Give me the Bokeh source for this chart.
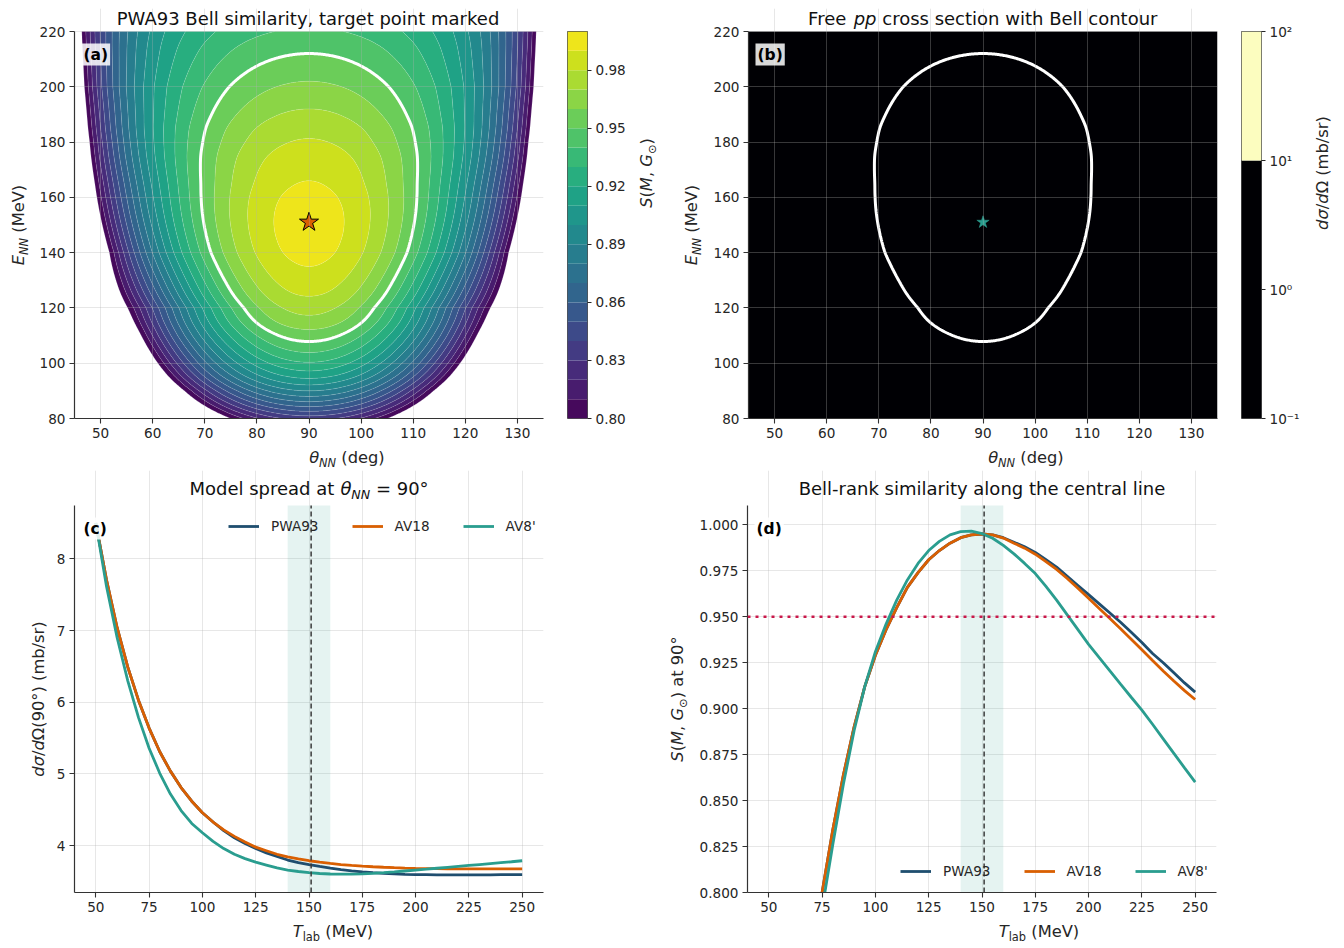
import math
import numpy as np
from bokeh.plotting import figure
from bokeh.layouts import row, column
from bokeh.models import (Range1d, FixedTicker, PrintfTickFormatter, Label, Legend,
                          LegendItem, BoxAnnotation, Span, Spacer)
from bokeh.palettes import Viridis256
from bokeh.embed import file_html
from bokeh.resources import INLINE

# ------------------------------------------------------------------ data
# (c) d sigma / d Omega at theta_NN = 90 deg (mb/sr) vs T_lab (MeV)
T_c = [50, 55, 60, 65, 70, 75, 80, 85, 90, 95,
       100, 105, 110, 115, 120, 125, 130, 135, 140, 145,
       150, 155, 160, 165, 170, 175, 180, 185, 190, 195,
       200, 205, 210, 215, 220, 225, 230, 235, 240, 245, 250]
xs_pwa93 = [8.50, 7.71, 7.04, 6.49, 6.03, 5.64, 5.31, 5.04, 4.81, 4.62,
            4.46, 4.33, 4.21, 4.11, 4.03, 3.96, 3.90, 3.85, 3.80, 3.765,
            3.735, 3.71, 3.687, 3.667, 3.65, 3.636, 3.625, 3.615, 3.607, 3.601,
            3.597, 3.595, 3.593, 3.592, 3.592, 3.592, 3.593, 3.594, 3.595, 3.596, 3.597]
xs_av18 = [8.50, 7.71, 7.04, 6.49, 6.03, 5.64, 5.31, 5.04, 4.81, 4.62,
           4.46, 4.33, 4.22, 4.13, 4.05, 3.98, 3.93, 3.88, 3.845, 3.815,
           3.79, 3.77, 3.752, 3.737, 3.725, 3.715, 3.706, 3.699, 3.693, 3.688,
           3.684, 3.681, 3.679, 3.678, 3.677, 3.677, 3.677, 3.677, 3.677, 3.677, 3.677]
xs_av8p = [8.50, 7.62, 6.90, 6.30, 5.79, 5.36, 5.01, 4.72, 4.49, 4.31,
           4.18, 4.06, 3.96, 3.88, 3.82, 3.77, 3.73, 3.69, 3.66, 3.64,
           3.625, 3.612, 3.605, 3.602, 3.603, 3.607, 3.614, 3.623, 3.634, 3.647,
           3.66, 3.672, 3.685, 3.698, 3.711, 3.724, 3.737, 3.75, 3.763, 3.776, 3.79]

# (d) Bell-rank similarity S(M, G_odot) at 90 deg vs T_lab (MeV)
T_d = [75, 80, 85, 90, 95, 100, 105, 110, 115, 120,
       125, 130, 135, 140, 145, 150, 155, 160, 165, 170,
       175, 180, 185, 190, 195, 200, 205, 210, 215, 220,
       225, 230, 235, 240, 245, 250]
S_pwa93 = [0.800, 0.834, 0.864, 0.890, 0.912, 0.929, 0.943, 0.955, 0.966, 0.974,
           0.981, 0.986, 0.990, 0.993, 0.9945, 0.995, 0.9945, 0.993, 0.9905, 0.988,
           0.985, 0.981, 0.977, 0.972, 0.967, 0.962, 0.957, 0.952, 0.947, 0.9415,
           0.936, 0.930, 0.925, 0.9195, 0.914, 0.909]
S_av18 = [0.800, 0.834, 0.864, 0.890, 0.912, 0.929, 0.943, 0.955, 0.966, 0.974,
          0.981, 0.986, 0.990, 0.993, 0.9945, 0.995, 0.9945, 0.9928, 0.990, 0.9873,
          0.984, 0.980, 0.9757, 0.9708, 0.9655, 0.960, 0.9545, 0.949, 0.9435, 0.9378,
          0.932, 0.9262, 0.9205, 0.915, 0.9098, 0.905]
S_av8p = [0.791, 0.826, 0.859, 0.888, 0.912, 0.931, 0.946, 0.959, 0.970, 0.979,
          0.986, 0.991, 0.9945, 0.9963, 0.9966, 0.9952, 0.9927, 0.9888, 0.9842, 0.979,
          0.9735, 0.9665, 0.959, 0.951, 0.943, 0.935, 0.9277, 0.9205, 0.9133, 0.9062,
          0.8992, 0.8915, 0.8836, 0.8757, 0.8678, 0.860]

# (a) similarity map, read per energy row (PWA93): half-width in deg (from 90 deg)
# of the S = 0.80 edge and of one inner contour (level, half-width); None = not readable
E_rows = [80, 90, 100, 110, 120, 140, 160, 180, 200, 220]
w80_rows = [15.0, 23.9, 29.0, 32.2, 34.8, 38.3, 40.7, 42.1, 43.1, 43.6]
mid_levels = [None, None, None, None, 0.95, 0.95, 0.95, 0.95, 0.95, 0.92]
w_mid_rows = [None, None, None, None, 12.5, 18.8, 20.7, 20.4, 15.3, 23.7]

S_levels = [0.80, 0.81, 0.82, 0.83, 0.84, 0.85, 0.86, 0.87, 0.88, 0.89, 0.90,
            0.91, 0.92, 0.93, 0.94, 0.95, 0.96, 0.97, 0.98, 0.99, 1.00]
S_cbar_ticks = [0.80, 0.83, 0.86, 0.89, 0.92, 0.95, 0.98]
bell_level = 0.95
target_theta = [90]
target_E = [151]
target_T = 151
band_T = [140, 160]

# (b) colour bands of the cross-section map, in log10(mb/sr)
xs_bounds_log = [-1, 1, 2]
xs_colors = ["#000004", "#fcfdbf"]
xs_cbar_ticks = [-1, 0, 1, 2]
xs_cbar_labels = ["10⁻¹", "10⁰", "10¹", "10²"]

theta_lim = [45, 135]
E_lim = [80, 220]
T_lim = [40, 260]
xs_lim = [3.347, 8.745]
S_lim = [0.800, 1.0105]
theta_ticks = [50, 60, 70, 80, 90, 100, 110, 120, 130]
E_ticks = [80, 100, 120, 140, 160, 180, 200, 220]
T_ticks = [50, 75, 100, 125, 150, 175, 200, 225, 250]
xs_ticks = [4, 5, 6, 7, 8]
S_ticks = [0.800, 0.825, 0.850, 0.875, 0.900, 0.925, 0.950, 0.975, 1.000]

# ------------------------------------------------------------------ style
FONT = "DejaVu Sans"
INK = "#262626"
C_PWA, C_AV18, C_AV8 = "#1f4e6f", "#d95f02", "#2a9d8f"
C_REF = "#c9184a"

CW = {' ': 0.318, '(': 0.390, ')': 0.390, 'M': 0.863, 'e': 0.615, 'V': 0.684, 'E': 0.632,
      'N': 0.748, 'd': 0.635, 'g': 0.635, 'θ': 0.602, 'T': 0.611, 'l': 0.278, 'a': 0.613,
      'b': 0.635, 'σ': 0.634, '/': 0.337, 'Ω': 0.764, '9': 0.636, '0': 0.636, '°': 0.500,
      'm': 0.974, 's': 0.521, 'r': 0.411, 'S': 0.635, 'G': 0.775, ',': 0.318, '⊙': 0.838,
      't': 0.392, '=': 0.838, 'p': 0.635, 'F': 0.575, 'c': 0.550, 'o': 0.612, 'i': 0.278,
      'n': 0.634, 'w': 0.818, 'h': 0.634, 'B': 0.686, 'u': 0.634, 'P': 0.603, 'W': 0.989,
      'A': 0.684, '3': 0.636, 'k': 0.579, 'y': 0.592, 'R': 0.695, 'C': 0.698, 'L': 0.557,
      '-': 0.361, 'v': 0.592, 'x': 0.592, 'f': 0.352}


def rich(fig, parts, cx, cy, size, angle=0.0, color=INK):
    """Mixed-style text (italic / subscript); (cx, cy) = centre of the capitals, frame px."""
    segs, total = [], 0.0
    for text, kind in parts:
        sub = kind in ("si", "sn")
        sz = size * 0.7 if sub else size
        w = sum(CW.get(ch, 0.6) for ch in text) * sz
        segs.append((text, kind, sz, w, sub))
        total += w
    a = -total / 2.0
    ca, sa = math.cos(angle), math.sin(angle)
    for text, kind, sz, w, sub in segs:
        shown = text.lstrip(" ")
        a0 = a + (len(text) - len(shown)) * CW[" "] * sz
        b = (-0.31 * size) if sub else (0.01 * size)
        fig.add_layout(Label(x=cx + a0 * ca - b * sa, y=cy + a0 * sa + b * ca,
                             x_units="screen", y_units="screen", text=shown, angle=angle,
                             text_align="left", text_baseline="alphabetic",
                             text_font=FONT, text_font_size=f"{sz:.1f}px",
                             text_font_style="italic" if kind in ("i", "si") else "normal",
                             text_color=color))
        a += w


def strip(w, h):
    s = figure(width=w, height=h, min_border=0, x_range=Range1d(0, 1), y_range=Range1d(0, 1),
               x_axis_location=None, y_axis_location=None, toolbar_location=None,
               output_backend="svg", outline_line_color=None, title=None,
               background_fill_color="white", border_fill_color="white")
    s.grid.visible = False
    return s


FW = 469          # frame width of every panel
DH = 387          # height of the data region of every panel


def panel(xlim, ylim, extra_top, bl, br, bb):
    """Figure whose frame carries extra room above the data region for the title."""
    y_end = ylim[1] + extra_top * (ylim[1] - ylim[0]) / DH
    p = figure(x_range=Range1d(*xlim), y_range=Range1d(ylim[0], y_end),
               frame_width=FW, frame_height=DH + extra_top,
               min_border_left=bl, min_border_right=br, min_border_top=0, min_border_bottom=bb,
               toolbar_location=None, output_backend="svg", outline_line_color=None,
               title=None, background_fill_color="white", border_fill_color="white")
    return p


def style(p, xticks, yticks, ylim, yfmt=None):
    p.xaxis.ticker = FixedTicker(ticks=xticks)
    p.yaxis.ticker = FixedTicker(ticks=yticks)
    p.yaxis.bounds = (ylim[0], ylim[1])
    if yfmt:
        p.yaxis.formatter = PrintfTickFormatter(format=yfmt)
    for ax in (p.xaxis[0], p.yaxis[0]):
        ax.axis_line_color = "#333333"
        ax.axis_line_width = 1.2
        ax.major_tick_line_color = "#333333"
        ax.major_tick_line_width = 1.1
        ax.major_tick_out = 5
        ax.major_tick_in = 0
        ax.minor_tick_line_color = None
        ax.major_label_text_font = FONT
        ax.major_label_text_font_size = "13.6px"
        ax.major_label_text_color = INK
        ax.major_label_standoff = 4
    p.grid.grid_line_color = "#b0b0b0"
    p.grid.grid_line_alpha = 0.35
    p.grid.grid_line_width = 0.9
    p.xgrid.bounds = (ylim[0], ylim[1])


def letter(p, txt):
    p.add_layout(Label(x=7, y=DH - 12, x_units="screen", y_units="screen", text=txt,
                       text_font=FONT, text_font_size="15.5px", text_font_style="bold",
                       text_color="black", text_align="left", text_baseline="top",
                       background_fill_color="white", background_fill_alpha=0.85, padding=2))


def colorbar_fig(yr, br):
    c = figure(x_range=Range1d(0, 1), y_range=yr, frame_width=20, frame_height=DH,
               min_border_left=12, min_border_right=br, min_border_top=23, min_border_bottom=52,
               x_axis_location=None, y_axis_location="right", toolbar_location=None,
               output_backend="svg", outline_line_color=INK, outline_line_width=0.8,
               title=None, background_fill_color="white", border_fill_color="white")
    c.grid.visible = False
    ax = c.yaxis[0]
    ax.axis_line_color = None
    ax.major_tick_line_color = INK
    ax.major_tick_out = 4
    ax.major_tick_in = 0
    ax.minor_tick_line_color = None
    ax.major_label_text_font = FONT
    ax.major_label_text_font_size = "13.6px"
    ax.major_label_text_color = INK
    ax.major_label_standoff = 4
    return c


def smooth_interp(xq, xs, ys):
    """Cubic Hermite interpolation through the 5 MeV centre-line readings."""
    xs = np.asarray(xs, float)
    ys = np.asarray(ys, float)
    m = np.gradient(ys, xs)
    i = np.clip(np.searchsorted(xs, xq) - 1, 0, len(xs) - 2)
    h = xs[i + 1] - xs[i]
    t = (xq - xs[i]) / h
    return ((2 * t ** 3 - 3 * t ** 2 + 1) * ys[i] + (t ** 3 - 2 * t ** 2 + t) * h * m[i]
            + (-2 * t ** 3 + 3 * t ** 2) * ys[i + 1] + (t ** 3 - t ** 2) * h * m[i + 1])


# ------------------------------------------------------------------ similarity field
theta_grid = np.linspace(theta_lim[0], theta_lim[1], 451)
E_grid = np.linspace(E_lim[0], E_lim[1], 351)
A_r, B_r = [], []
for E, w80, lvl, wm in zip(E_rows, w80_rows, mid_levels, w_mid_rows):
    s0 = float(np.interp(E, T_d, S_pwa93))
    v2 = w80 ** 2
    if wm is None:
        A_r.append((s0 - S_levels[0]) / v2)
        B_r.append(0.0)
    else:
        v1 = wm ** 2
        a, b = np.linalg.solve(np.array([[v1, v1 ** 3], [v2, v2 ** 3]]),
                               np.array([s0 - lvl, s0 - S_levels[0]]))
        A_r.append(a)
        B_r.append(b)
S0 = smooth_interp(E_grid, T_d, S_pwa93)[:, None]
A_g = np.interp(E_grid, E_rows, A_r)[:, None]
B_g = np.interp(E_grid, E_rows, B_r)[:, None]
V = (theta_grid[None, :] - target_theta[0]) ** 2
S_field = S0 - A_g * V - B_g * V ** 3
XS_field = np.log10(np.interp(E_grid, T_c, xs_pwa93))[:, None] + 0.0 * V

band_colors = [Viridis256[min(255, int(((lo + hi) / 2 - S_levels[0]) /
                                         (S_levels[-1] - S_levels[0]) * 256))]
               for lo, hi in zip(S_levels[:-1], S_levels[1:])]

TOP_T = 23     # title room above the data region, top row
BOT_T = 35     # title room above the data region, bottom row
TS = 18.0      # title font px
LS = 16.3      # axis-label font px

# ------------------------------------------------------------------ (a)
pa = panel(theta_lim, E_lim, TOP_T, 38, 12, 26)
style(pa, theta_ticks, E_ticks, E_lim)
pa.contour(x=theta_grid, y=E_grid, z=S_field, levels=S_levels, fill_color=band_colors,
           line_color="white", line_alpha=0.28, line_width=0.6)
pa.contour(x=theta_grid, y=E_grid, z=S_field, levels=[bell_level],
           line_color="white", line_width=3)
pa.scatter(x=target_theta, y=target_E, marker="star", size=20,
           fill_color="#d95f02", line_color="black", line_width=1)
pa.grid.level = "glyph"
letter(pa, "(a)")
rich(pa, [("PWA93 Bell similarity, target point marked", "n")], FW / 2, DH + 12.7, TS,
     color="#111111")
yla = strip(28, 462)
rich(yla, [("E", "i"), ("NN", "si"), (" (MeV)", "n")], 10, 245.5, LS, angle=math.pi / 2)
xla = strip(519, 26)
rich(xla, [("θ", "i"), ("NN", "si"), (" (deg)", "n")], 38 + FW / 2, 12.5, LS)

ca = colorbar_fig(Range1d(S_levels[0], S_levels[-1]), 40)
ca.quad(left=0, right=1, bottom=S_levels[:-1], top=S_levels[1:],
        fill_color=band_colors, line_color=None)
ca.yaxis.ticker = FixedTicker(ticks=S_cbar_ticks)
ca.yaxis.formatter = PrintfTickFormatter(format="%.2f")
cal = strip(33, 462)
rich(cal, [("S", "i"), ("(", "n"), ("M", "i"), (", ", "n"), ("G", "i"), ("⊙", "sn"), (")", "n")],
     18, 245.5, LS, angle=math.pi / 2)

# ------------------------------------------------------------------ (b)
pb = panel(theta_lim, E_lim, TOP_T, 43, 12, 26)
style(pb, theta_ticks, E_ticks, E_lim)
pb.contour(x=theta_grid, y=E_grid, z=XS_field, levels=xs_bounds_log, fill_color=xs_colors,
           line_color=None)
pb.contour(x=theta_grid, y=E_grid, z=S_field, levels=[bell_level],
           line_color="white", line_width=3)
pb.scatter(x=target_theta, y=target_E, marker="star", size=13,
           fill_color=C_AV8, line_color=C_AV8, line_width=0.5)
pb.grid.level = "glyph"
letter(pb, "(b)")
rich(pb, [("Free ", "n"), ("pp", "i"), (" cross section with Bell contour", "n")],
     FW / 2, DH + 12.7, TS, color="#111111")
ylb = strip(44, 462)
rich(ylb, [("E", "i"), ("NN", "si"), (" (MeV)", "n")], 30, 245.5, LS, angle=math.pi / 2)
xlb = strip(524, 26)
rich(xlb, [("θ", "i"), ("NN", "si"), (" (deg)", "n")], 43 + FW / 2, 12.5, LS)

cb = colorbar_fig(Range1d(xs_bounds_log[0], xs_bounds_log[-1]), 38)
cb.quad(left=0, right=1, bottom=xs_bounds_log[:-1], top=xs_bounds_log[1:],
        fill_color=xs_colors, line_color=None)
cb.yaxis.ticker = FixedTicker(ticks=xs_cbar_ticks)
cb.yaxis.major_label_overrides = dict(zip(xs_cbar_ticks, xs_cbar_labels))
cbl = strip(37, 462)
rich(cbl, [("dσ", "i"), ("/", "n"), ("d", "i"), ("Ω", "n"), (" (mb/sr)", "n")],
     20, 245.5, LS, angle=math.pi / 2)


def legend(p, rs, loc):
    p.add_layout(Legend(items=[LegendItem(label="PWA93", renderers=[rs[0]]),
                               LegendItem(label="AV18", renderers=[rs[1]]),
                               LegendItem(label="AV8'", renderers=[rs[2]])],
                        location=loc, orientation="horizontal", background_fill_alpha=0,
                        border_line_alpha=0, label_text_font=FONT,
                        label_text_font_size="13.6px", label_text_color=INK,
                        glyph_width=31, glyph_height=20, label_height=20,
                        label_standoff=12, spacing=33, padding=0, margin=0))


# ------------------------------------------------------------------ (c)
pc = panel(T_lim, xs_lim, BOT_T, 24, 117, 26)
style(pc, T_ticks, xs_ticks, xs_lim)
pc.add_layout(BoxAnnotation(left=band_T[0], right=band_T[1], bottom=xs_lim[0], top=xs_lim[1],
                            fill_color=C_AV8, fill_alpha=0.12, line_color=None,
                            level="underlay"))
rc = [pc.line(T_c, xs_pwa93, line_color=C_PWA, line_width=2.8),
      pc.line(T_c, xs_av18, line_color=C_AV18, line_width=2.8),
      pc.line(T_c, xs_av8p, line_color=C_AV8, line_width=2.8)]
pc.segment(x0=[target_T], y0=[xs_lim[0]], x1=[target_T], y1=[xs_lim[1]],
           line_color="#3a3a3a", line_width=1.5, line_dash="5 3")
legend(pc, rc, (154, 356))
letter(pc, "(c)")
rich(pc, [("Model spread at ", "n"), ("θ", "i"), ("NN", "si"), (" = 90°", "n")],
     FW / 2, DH + 17, TS, color="#111111")
ylc = strip(42, 476)
rich(ylc, [("dσ", "i"), ("/", "n"), ("d", "i"), ("Ω(90°)", "n"), (" (mb/sr)", "n")],
     30, 247.5, LS, angle=math.pi / 2)
xlc = strip(610, 28)
rich(xlc, [("T", "i"), ("lab", "sn"), (" (MeV)", "n")], 24 + FW / 2, 15, LS)

# ------------------------------------------------------------------ (d)
pdd = panel(T_lim, S_lim, BOT_T, 57, 119, 26)
style(pdd, T_ticks, S_ticks, S_lim, "%.3f")
pdd.add_layout(BoxAnnotation(left=band_T[0], right=band_T[1], bottom=S_lim[0], top=S_lim[1],
                             fill_color=C_AV8, fill_alpha=0.12, line_color=None,
                             level="underlay"))
rd = [pdd.line(T_d, S_pwa93, line_color=C_PWA, line_width=2.8),
      pdd.line(T_d, S_av18, line_color=C_AV18, line_width=2.8),
      pdd.line(T_d, S_av8p, line_color=C_AV8, line_width=2.8)]
pdd.add_layout(Span(location=bell_level, dimension="width", line_color=C_REF,
                    line_width=2.4, line_dash="3 5"))
pdd.segment(x0=[target_T], y0=[S_lim[0]], x1=[target_T], y1=[S_lim[1]],
            line_color="#3a3a3a", line_width=1.5, line_dash="5 3")
legend(pdd, rd, (153, 11))
letter(pdd, "(d)")
rich(pdd, [("Bell-rank similarity along the central line", "n")],
     FW / 2, DH + 17, TS, color="#111111")
yld = strip(30, 476)
rich(yld, [("S", "i"), ("(", "n"), ("M", "i"), (", ", "n"), ("G", "i"), ("⊙", "sn"), (")", "n"),
           (" at 90°", "n")], 17, 247.5, LS, angle=math.pi / 2)
xld = strip(645, 28)
rich(xld, [("T", "i"), ("lab", "sn"), (" (MeV)", "n")], 57 + FW / 2, 15, LS)

# ------------------------------------------------------------------ layout
top = row(row(yla, column(pa, xla)), row(ca, cal), row(ylb, column(pb, xlb)), row(cb, cbl))
bottom = row(row(ylc, column(pc, xlc)), row(yld, column(pdd, xld)))
layout = column(Spacer(width=8, height=8),
                row(Spacer(width=8, height=8), column(top, bottom)))
open("out.html", "w").write(file_html(layout, INLINE, "Bell similarity"))
